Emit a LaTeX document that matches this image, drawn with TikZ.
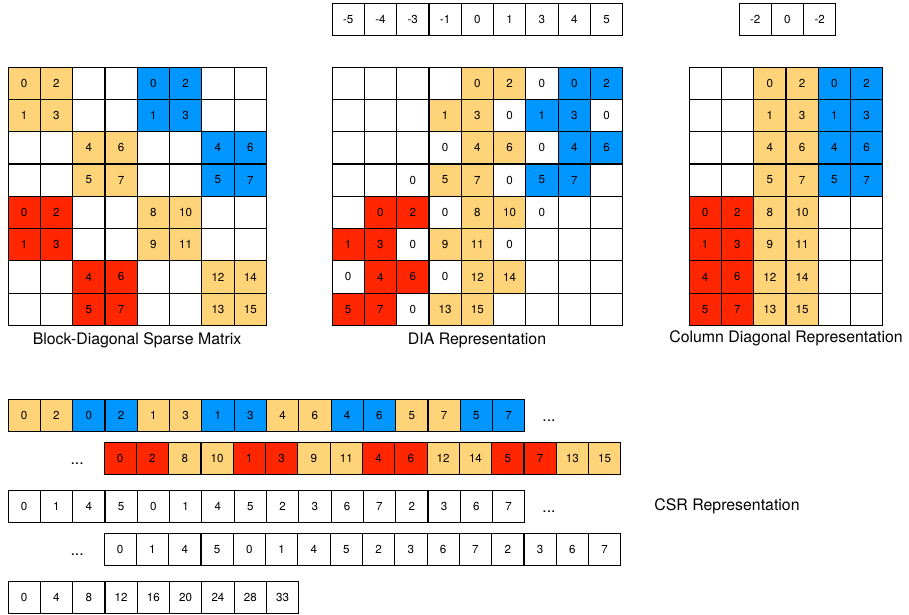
\documentclass[tikz,border=0pt]{standalone}
\usepackage{fontspec}
\setmainfont{TeX Gyre Heros}
\usetikzlibrary{positioning}

\definecolor{tancell}{HTML}{FFD479}
\definecolor{bluecell}{HTML}{0096FF}
\definecolor{redcell}{HTML}{FF2600}

% one row of square cells: name, left x, top y, list of style/value
\newcommand{\cellrow}[4]{%
  \foreach [count=\i from 0] \c/\v in {#4} {
    \node[cell, \c] (#1-\i) at ({#2+(\i+0.5)*\cw}, {#3+\cw/2}) {\v};
  }}

\begin{document}
\begin{tikzpicture}[
  x=0.75pt, y=-0.75pt,
  % Node styles
  cell/.style={rectangle, draw=black, line width=0.6pt, inner sep=0pt,
    outer sep=0pt, minimum width=24.2pt, minimum height=24.2pt,
    font=\fontsize{8.7}{10}\selectfont},
  tn/.style={fill=tancell},
  bl/.style={fill=bluecell},
  rd/.style={fill=redcell},
  wh/.style={fill=white},
  lbl/.style={font=\fontsize{11.9}{14}\selectfont, inner sep=0pt},
  dotlbl/.style={lbl, yshift=-4pt},
]
\def\cw{32.3}
\useasboundingbox (0,0) rectangle (909,614);

% === Block-diagonal sparse matrix ===
\cellrow{bd0}{8}{67+0*\cw}{tn/0,tn/2,wh/,wh/,bl/0,bl/2,wh/,wh/}
\cellrow{bd1}{8}{67+1*\cw}{tn/1,tn/3,wh/,wh/,bl/1,bl/3,wh/,wh/}
\cellrow{bd2}{8}{67+2*\cw}{wh/,wh/,tn/4,tn/6,wh/,wh/,bl/4,bl/6}
\cellrow{bd3}{8}{67+3*\cw}{wh/,wh/,tn/5,tn/7,wh/,wh/,bl/5,bl/7}
\cellrow{bd4}{8}{67+4*\cw}{rd/0,rd/2,wh/,wh/,tn/8,tn/10,wh/,wh/}
\cellrow{bd5}{8}{67+5*\cw}{rd/1,rd/3,wh/,wh/,tn/9,tn/11,wh/,wh/}
\cellrow{bd6}{8}{67+6*\cw}{wh/,wh/,rd/4,rd/6,wh/,wh/,tn/12,tn/14}
\cellrow{bd7}{8}{67+7*\cw}{wh/,wh/,rd/5,rd/7,wh/,wh/,tn/13,tn/15}
\node[lbl] (bdlabel) at (137,340) {Block-Diagonal Sparse Matrix};

% === DIA representation ===
\cellrow{diaoff}{332}{3}{wh/-5,wh/-4,wh/-3,wh/-1,wh/0,wh/1,wh/3,wh/4,wh/5}
\cellrow{dia0}{332}{67+0*\cw}{wh/,wh/,wh/,wh/,tn/0,tn/2,wh/0,bl/0,bl/2}
\cellrow{dia1}{332}{67+1*\cw}{wh/,wh/,wh/,tn/1,tn/3,wh/0,bl/1,bl/3,wh/0}
\cellrow{dia2}{332}{67+2*\cw}{wh/,wh/,wh/,wh/0,tn/4,tn/6,wh/0,bl/4,bl/6}
\cellrow{dia3}{332}{67+3*\cw}{wh/,wh/,wh/0,tn/5,tn/7,wh/0,bl/5,bl/7,wh/}
\cellrow{dia4}{332}{67+4*\cw}{wh/,rd/0,rd/2,wh/0,tn/8,tn/10,wh/0,wh/,wh/}
\cellrow{dia5}{332}{67+5*\cw}{rd/1,rd/3,wh/0,tn/9,tn/11,wh/0,wh/,wh/,wh/}
\cellrow{dia6}{332}{67+6*\cw}{wh/0,rd/4,rd/6,wh/0,tn/12,tn/14,wh/,wh/,wh/}
\cellrow{dia7}{332}{67+7*\cw}{rd/5,rd/7,wh/0,tn/13,tn/15,wh/,wh/,wh/,wh/}
\node[lbl] (dialabel) at (477,340) {DIA Representation};

% === Column diagonal representation ===
\cellrow{cdoff}{739}{3}{wh/-2,wh/0,wh/-2}
\cellrow{cd0}{689}{67+0*\cw}{wh/,wh/,tn/0,tn/2,bl/0,bl/2}
\cellrow{cd1}{689}{67+1*\cw}{wh/,wh/,tn/1,tn/3,bl/1,bl/3}
\cellrow{cd2}{689}{67+2*\cw}{wh/,wh/,tn/4,tn/6,bl/4,bl/6}
\cellrow{cd3}{689}{67+3*\cw}{wh/,wh/,tn/5,tn/7,bl/5,bl/7}
\cellrow{cd4}{689}{67+4*\cw}{rd/0,rd/2,tn/8,tn/10,wh/,wh/}
\cellrow{cd5}{689}{67+5*\cw}{rd/1,rd/3,tn/9,tn/11,wh/,wh/}
\cellrow{cd6}{689}{67+6*\cw}{rd/4,rd/6,tn/12,tn/14,wh/,wh/}
\cellrow{cd7}{689}{67+7*\cw}{rd/5,rd/7,tn/13,tn/15,wh/,wh/}
\node[lbl] (cdlabel) at (786,338) {Column Diagonal Representation};

% === CSR representation ===
% values
\cellrow{val1}{8}{399}{tn/0,tn/2,bl/0,bl/2,tn/1,tn/3,bl/1,bl/3,tn/4,tn/6,bl/4,bl/6,tn/5,tn/7,bl/5,bl/7}
\node[dotlbl, right=13pt of val1-15] (val1dots) {...};
\cellrow{val2}{104}{442}{rd/0,rd/2,tn/8,tn/10,rd/1,rd/3,tn/9,tn/11,rd/4,rd/6,tn/12,tn/14,rd/5,rd/7,tn/13,tn/15}
\node[dotlbl, left=15pt of val2-0] (val2dots) {...};
% column indices
\cellrow{col1}{8}{490}{wh/0,wh/1,wh/4,wh/5,wh/0,wh/1,wh/4,wh/5,wh/2,wh/3,wh/6,wh/7,wh/2,wh/3,wh/6,wh/7}
\node[dotlbl, right=13pt of col1-15] (col1dots) {...};
\cellrow{col2}{104}{533}{wh/0,wh/1,wh/4,wh/5,wh/0,wh/1,wh/4,wh/5,wh/2,wh/3,wh/6,wh/7,wh/2,wh/3,wh/6,wh/7}
\node[dotlbl, left=15pt of col2-0] (col2dots) {...};
% row pointers
\cellrow{rowptr}{8}{581}{wh/0,wh/4,wh/8,wh/12,wh/16,wh/20,wh/24,wh/28,wh/33}
\node[lbl] (csrlabel) at (727,506) {CSR Representation};

\end{tikzpicture}
\end{document}
